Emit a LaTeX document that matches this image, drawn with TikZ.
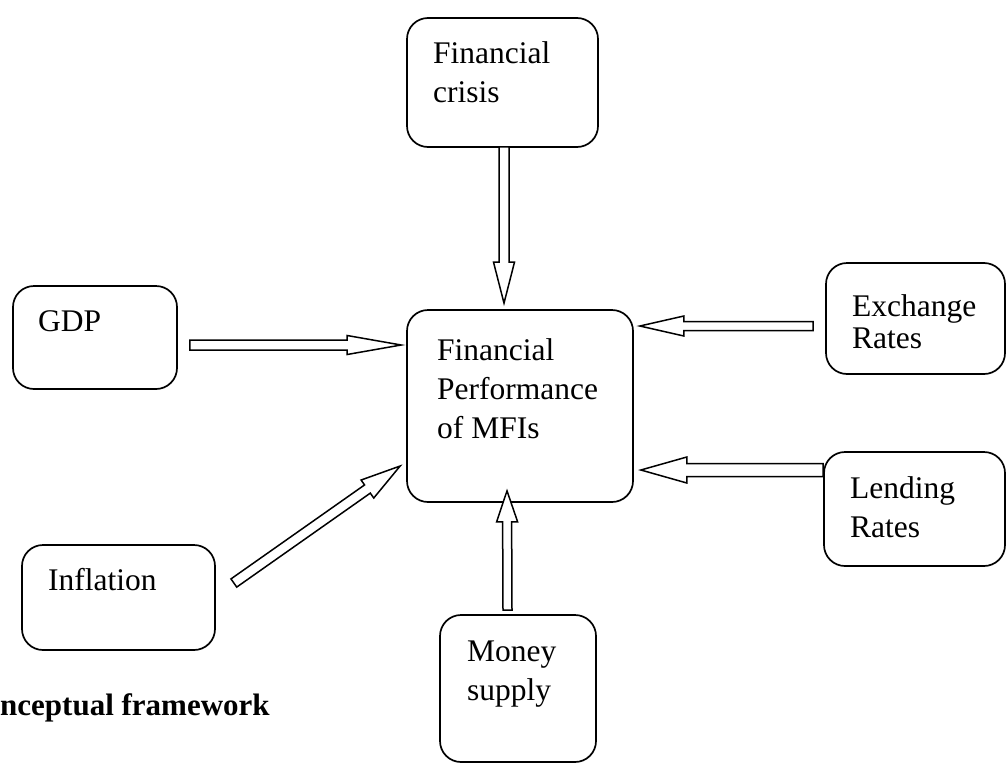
\documentclass[tikz,border=0pt]{standalone}
\usepackage{fontspec}
\setmainfont{Liberation Serif}
\usetikzlibrary{calc}
\tikzset{
  box/.style={draw, line width=1.7pt, rounded corners=21pt, inner sep=0pt},
  txt/.style={inner sep=0pt, anchor=base west, align=left, font=\fontsize{31.5}{39}\selectfont},
  arrowline/.style={draw, line width=1.5pt, fill=white, line join=miter},
}
% #1 tail, #2 tip, #3 head length, #4 shaft half width, #5 head half width
\newcommand\blockarrow[5]{%
  \path[arrowline] let \p1=(#1), \p2=(#2),
    \n1={atan2(\y2-\y1,\x2-\x1)}, \n2={veclen(\x2-\x1,\y2-\y1)} in
    [shift={(\p1)}, rotate=\n1]
    (0pt,#4pt) -- ({(\n2-#3)*1pt},#4pt) -- ({(\n2-#3)*1pt},#5pt) -- ({\n2*1pt},0pt)
    -- ({(\n2-#3)*1pt},-#5pt) -- ({(\n2-#3)*1pt},-#4pt) -- (0pt,-#4pt) -- cycle;}
\begin{document}
\begin{tikzpicture}[x=1pt,y=-1pt]
\useasboundingbox (0,0) rectangle (1006,763);
% boxes
\node[box, minimum width=191pt, minimum height=129pt] (crisis) at (502.5,82.5) {};
\node[box, minimum width=164pt, minimum height=103pt] (gdp) at (95,337.5) {};
\node[box, minimum width=226pt, minimum height=192pt] (center) at (520,406) {};
\node[box, minimum width=179pt, minimum height=111pt] (exchange) at (915.5,318.5) {};
\node[box, minimum width=181pt, minimum height=114pt] (lending) at (914.5,509) {};
\node[box, minimum width=193pt, minimum height=105pt] (inflation) at (118.5,597.5) {};
\node[box, minimum width=156pt, minimum height=147pt] (money) at (518,688.5) {};
% texts (anchor = baseline of the last line)
\node[txt] (crisisT) at (433,102) {Financial\\crisis};
\node[txt] (gdpT) at (38,331) {GDP};
\node[txt] (centerT) at (437,438) {Financial\\Performance\\of MFIs};
\node[txt] (exchangeT) at (852,348) {Exchange\\[-7pt]Rates};
\node[txt] (lendingT) at (850,537) {Lending\\Rates};
\node[txt] (inflationT) at (48,590) {Inflation};
\node[txt] (moneyT) at (467,700) {Money\\supply};
\node[txt, font=\fontsize{31}{39}\selectfont\bfseries] (caption) at (0,715) {nceptual framework};
% arrows
\coordinate (a1s) at ($(crisis.south)+(1.5,-1)$);
\coordinate (a1e) at ($(center.north)+(-16,-6)$);
\coordinate (a2s) at ($(gdp.east)+(12,7.5)$);
\coordinate (a2e) at ($(center.west)+(-5,-61)$);
\coordinate (a3s) at ($(exchange.west)+(-12,7.5)$);
\coordinate (a3e) at ($(center.east)+(6,-80)$);
\coordinate (a4s) at ($(lending.west)+(0,-39)$);
\coordinate (a4e) at ($(center.east)+(7,64)$);
\coordinate (a5s) at ($(money.north)+(-10.5,-4)$);
\coordinate (a5e) at ($(center.south)+(-13,-12)$);
\coordinate (a6s) at ($(inflation.east)+(18,-14.5)$);
\coordinate (a6e) at ($(center.west)+(-6,60)$);
\blockarrow{a1s}{a1e}{41}{5}{10.5}
\blockarrow{a2s}{a2e}{54}{5}{9.5}
\blockarrow{a3s}{a3e}{44}{4.5}{10}
\blockarrow{a4s}{a4e}{46}{6.5}{13}
\blockarrow{a5s}{a5e}{31}{4.5}{10.5}
\blockarrow{a6s}{a6e}{40}{5}{11}
\end{tikzpicture}
\end{document}
